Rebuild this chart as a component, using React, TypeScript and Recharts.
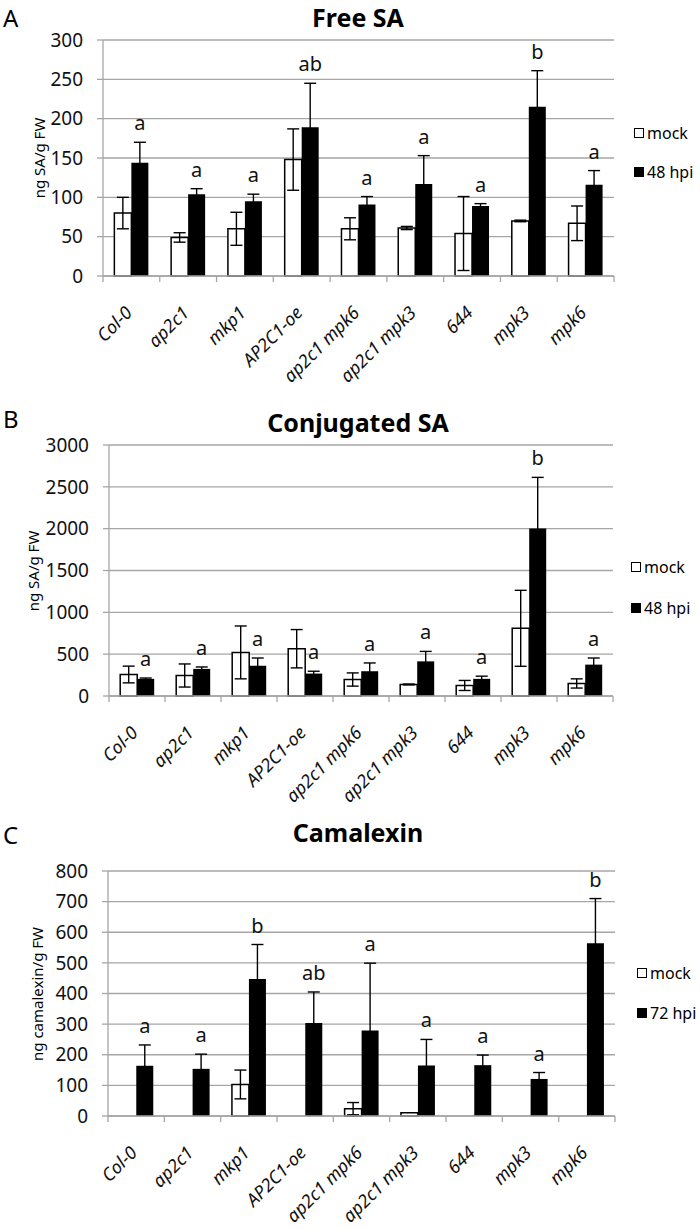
import React from 'react';
import { BarChart, Bar, XAxis, YAxis, CartesianGrid, ErrorBar, LabelList } from 'recharts';

const genotypes = ['Col-0', 'ap2c1', 'mkp1', 'AP2C1-oe', 'ap2c1 mpk6', 'ap2c1 mpk3', '644', 'mpk3', 'mpk6'];

// A - free SA (ng SA/g FW)
const freeMock = [80, 49, 60, 148, 60, 61, 54, 70, 67];
const freeMockErr = [20, 6, 21, 39, 14, 2, 47, 1, 22];
const freeHpi = [144, 104, 95, 189, 91, 117, 89, 215, 116];
const freeHpiErr = [26, 7, 9, 56, 10, 36, 3, 46, 18];
const freeLetters = ['a', 'a', 'a', 'ab', 'a', 'a', 'a', 'b', 'a'];
const freeTicks = [0, 50, 100, 150, 200, 250, 300];

// B - conjugated SA (ng SA/g FW)
const conjMock = [257, 245, 521, 565, 197, 138, 126, 809, 150];
const conjMockErr = [100, 138, 316, 229, 79, 5, 60, 454, 55];
const conjHpi = [205, 324, 363, 268, 296, 414, 205, 2001, 375];
const conjHpiErr = [10, 23, 91, 28, 99, 119, 32, 612, 79];
const conjLetters = ['a', 'a', 'a', 'a', 'a', 'a', 'a', 'b', 'a'];
const conjTicks = [0, 500, 1000, 1500, 2000, 2500, 3000];

// C - camalexin (ng camalexin/g FW)
const camMock = [0, 0, 103, 0, 24, 11, 0, 0, 0];
const camMockErr = [0, 0, 47, 0, 20, 0, 0, 0, 0];
const camHpi = [164, 154, 447, 304, 279, 165, 166, 121, 564];
const camHpiErr = [68, 48, 113, 101, 220, 85, 33, 21, 146];
const camLetters = ['a', 'a', 'b', 'ab', 'a', 'a', 'a', 'a', 'b'];
const camTicks = [0, 100, 200, 300, 400, 500, 600, 700, 800];

const FONT = '"Noto Sans", "Open Sans", sans-serif';
const GRID = '#a6a6a6';

const buildRows = (mock: number[], mockErr: number[], hpi: number[], hpiErr: number[]) =>
  genotypes.map((name, i) => ({ name, mock: mock[i], mockErr: mockErr[i], hpi: hpi[i], hpiErr: hpiErr[i] }));

type PanelProps = {
  letter: string;
  title: string;
  yLabel: string;
  yLabelX: number;
  hpiLabel: string;
  top: number;
  height: number;
  plotTop: number;
  plotBottom: number;
  plotLeft: number;
  plotRight: number;
  ticks: number[];
  mock: number[];
  mockErr: number[];
  hpi: number[];
  hpiErr: number[];
  letters: string[];
  titleY: number;
  letterY: number;
  legendX: number;
  legendY: [number, number];
};

const Panel = (p: PanelProps) => {
  const rows = buildRows(p.mock, p.mockErr, p.hpi, p.hpiErr);
  const band = (p.plotRight - p.plotLeft) / genotypes.length;
  const yAxisWidth = 60;
  const xAxisHeight = 115;
  // page coords -> coords inside this panel
  const localTop = p.plotTop - p.top;
  const localBottom = p.plotBottom - p.top;

  const XTick = (props: any) => {
    const { x, y, payload, index } = props;
    const ax = x + 2;
    const ay = y + 38;
    return (
      <g>
        <line x1={x - band / 2} y1={y} x2={x - band / 2} y2={y + 6} stroke={GRID} strokeWidth={1.3} />
        {index === genotypes.length - 1 && (
          <line x1={x + band / 2} y1={y} x2={x + band / 2} y2={y + 6} stroke={GRID} strokeWidth={1.3} />
        )}
        <text
          x={ax}
          y={ay}
          transform={`rotate(-45 ${ax} ${ay})`}
          textAnchor="end"
          fontStyle="italic"
          fontSize={18}
          fontFamily={FONT}
          fill="#111"
        >
          {payload.value}
        </text>
      </g>
    );
  };

  const renderLetter = (props: any) => {
    const { x, y, width, height, index } = props;
    const v = p.hpi[index];
    const pxPerUnit = v > 0 ? height / v : 0;
    const errTop = y - p.hpiErr[index] * pxPerUnit;
    return (
      <text x={x + width / 2} y={errTop - 12} textAnchor="middle" fontSize={20} fontFamily={FONT} fill="#111">
        {p.letters[index]}
      </text>
    );
  };

  const legendRow = (label: string, fill: string, cy: number) => (
    <div
      style={{
        position: 'absolute',
        left: p.legendX,
        top: cy - p.top,
        transform: 'translateY(-50%)',
        display: 'flex',
        alignItems: 'center',
        fontSize: 16,
        fontFamily: FONT,
        whiteSpace: 'nowrap',
      }}
    >
      <span style={{ display: 'inline-block', width: 8, height: 8, border: '1.5px solid #000', background: fill, marginRight: 3 }} />
      {label}
    </div>
  );

  return (
    <div style={{ position: 'absolute', left: 0, top: p.top, width: 700, height: p.height }}>
      <BarChart
        width={700}
        height={p.height}
        data={rows}
        barCategoryGap="20%"
        barGap={0}
        margin={{
          top: localTop,
          bottom: p.height - localBottom - xAxisHeight,
          left: p.plotLeft - yAxisWidth,
          right: 700 - p.plotRight,
        }}
        style={{ position: 'absolute', left: 0, top: 0 }}
      >
        <CartesianGrid vertical={false} stroke={GRID} strokeWidth={1.3} />
        <XAxis
          dataKey="name"
          interval={0}
          height={xAxisHeight}
          tick={<XTick />}
          tickLine={false}
          tickSize={0}
          tickMargin={0}
          axisLine={{ stroke: GRID, strokeWidth: 1.3 }}
        />
        <YAxis
          width={yAxisWidth}
          domain={[0, p.ticks[p.ticks.length - 1]]}
          ticks={p.ticks}
          interval={0}
          tickSize={6}
          tickMargin={14}
          tickLine={{ stroke: GRID, strokeWidth: 1.3 }}
          axisLine={{ stroke: GRID, strokeWidth: 1.3 }}
          tick={{ fontSize: 19, fontFamily: FONT, fill: '#111' }}
        />
        <Bar dataKey="mock" fill="#fff" stroke="#000" strokeWidth={1.5} isAnimationActive={false}>
          <ErrorBar dataKey="mockErr" width={6} stroke="#000" strokeWidth={1.4} direction="y" />
        </Bar>
        <Bar dataKey="hpi" fill="#000" isAnimationActive={false}>
          <ErrorBar dataKey="hpiErr" width={6} stroke="#000" strokeWidth={1.4} direction="y" />
          <LabelList dataKey="hpi" content={renderLetter} />
        </Bar>
      </BarChart>
      <div style={{ position: 'absolute', left: 3, top: p.letterY - p.top, fontSize: 24, fontFamily: FONT, lineHeight: 1 }}>
        {p.letter}
      </div>
      <div
        style={{
          position: 'absolute',
          left: 358,
          top: p.titleY - p.top,
          transform: 'translate(-50%, -50%)',
          fontSize: 25,
          fontWeight: 'bold',
          fontFamily: FONT,
          whiteSpace: 'nowrap',
        }}
      >
        {p.title}
      </div>
      <div
        style={{
          position: 'absolute',
          left: p.yLabelX,
          top: (localTop + localBottom) / 2,
          transform: 'translate(-50%, -50%) rotate(-90deg)',
          fontSize: 15,
          fontFamily: FONT,
          whiteSpace: 'nowrap',
        }}
      >
        {p.yLabel}
      </div>
      {legendRow('mock', '#fff', p.legendY[0])}
      {legendRow(p.hpiLabel, '#000', p.legendY[1])}
    </div>
  );
};

export default function App() {
  return (
    <div style={{ position: 'absolute', left: 0, top: 0, width: 700, height: 1229, background: '#fff' }}>
      <Panel
        letter="A"
        title="Free SA"
        yLabel="ng SA/g FW"
        yLabelX={39}
        hpiLabel="48 hpi"
        top={0}
        height={400}
        plotTop={40}
        plotBottom={276}
        plotLeft={103}
        plotRight={614}
        ticks={freeTicks}
        mock={freeMock}
        mockErr={freeMockErr}
        hpi={freeHpi}
        hpiErr={freeHpiErr}
        letters={freeLetters}
        titleY={17}
        letterY={6}
        legendX={634}
        legendY={[133, 172]}
      />
      <Panel
        letter="B"
        title="Conjugated SA"
        yLabel="ng SA/g FW"
        yLabelX={33}
        hpiLabel="48 hpi"
        top={400}
        height={420}
        plotTop={445}
        plotBottom={696}
        plotLeft={109}
        plotRight={613}
        ticks={conjTicks}
        mock={conjMock}
        mockErr={conjMockErr}
        hpi={conjHpi}
        hpiErr={conjHpiErr}
        letters={conjLetters}
        titleY={422}
        letterY={407}
        legendX={631}
        legendY={[567, 608]}
      />
      <Panel
        letter="C"
        title="Camalexin"
        yLabel="ng camalexin/g FW"
        yLabelX={37}
        hpiLabel="72 hpi"
        top={820}
        height={409}
        plotTop={871}
        plotBottom={1116}
        plotLeft={108}
        plotRight={615}
        ticks={camTicks}
        mock={camMock}
        mockErr={camMockErr}
        hpi={camHpi}
        hpiErr={camHpiErr}
        letters={camLetters}
        titleY={832}
        letterY={823}
        legendX={637}
        legendY={[973, 1013]}
      />
    </div>
  );
}
